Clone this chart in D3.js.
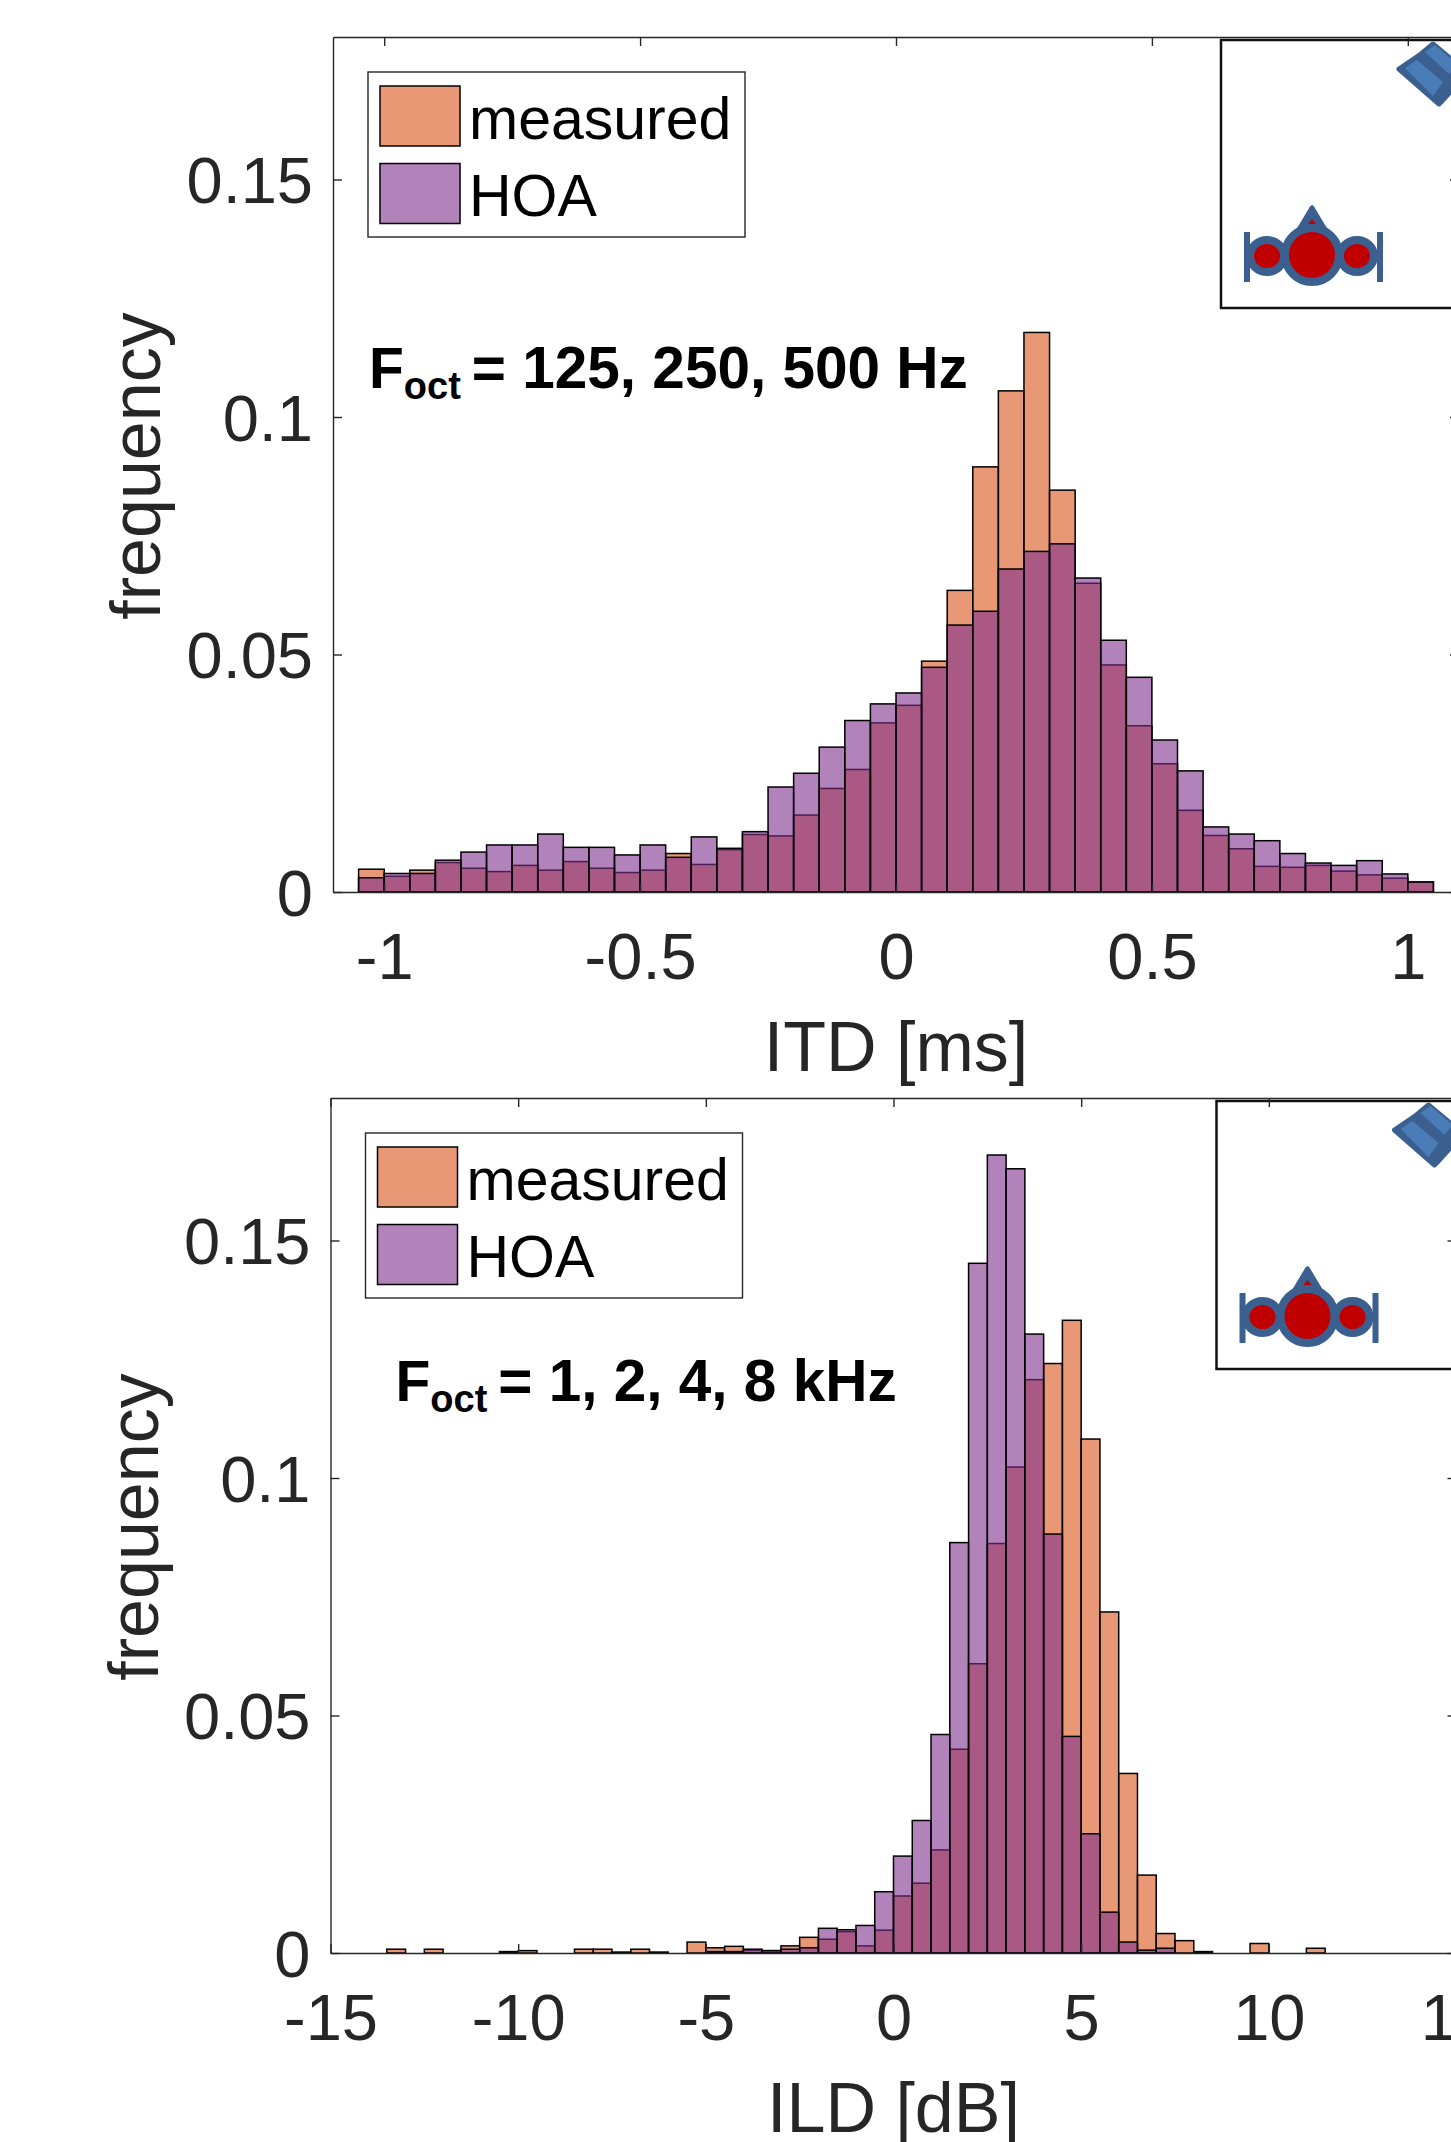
<!DOCTYPE html>
<html>
<head>
<meta charset="utf-8">
<script src="https://cdn.jsdelivr.net/npm/d3@7"></script>
<style>
    html, body { margin: 0; padding: 0; background: #fff; overflow: hidden; }
    text { font-family: "Liberation Sans", Arial, sans-serif; }
</style>
</head>
<body>
<div id="chart"></div>
<script>
// ITD histogram, bins are 0.05 ms wide starting at -1.05
const itdBinStart = -1.05;
const itdBinWidth = 0.05;
const itdMeasured = [
    .0048, .0033, .0046, .0062, .0050, .0043, .0056, .0046, .0064, .0050, .0041,
    .0046, .0081, .0058, .0089, .0121, .0118, .0162, .0218, .0258, .0356, .0393,
    .0486, .0635, .0895, .1055, .1178, .0846, .0650, .0478, .0350, .0270, .0172,
    .0119, .0091, .0054, .0052, .0056, .0044, .0036, .0029, .0021
];
const itdHoa = [
    .0030, .0039, .0039, .0067, .0084, .0099, .0099, .0122, .0094, .0094, .0078,
    .0099, .0073, .0116, .0092, .0127, .0221, .0250, .0305, .0361, .0396, .0419,
    .0473, .0562, .0591, .0680, .0717, .0733, .0661, .0530, .0452, .0320, .0255,
    .0137, .0122, .0108, .0081, .0061, .0056, .0066, .0038, .0021
];
const itdTicks = [-1, -0.5, 0, 0.5, 1];

// ILD histogram, bins are 0.5 dB wide starting at -13.5
const ildBinStart = -13.5;
const ildBinWidth = 0.5;
const ildMeasured = [
    .0008, 0, .0008, 0, 0, 0, .0003, .0005, 0, 0, .0008, .0008, .0002, .0008, .0002, 0,
    .0023, .0011, .0014, .0006, .0005, .0015, .0033, .0029, .0045, .0015, .0048, .0120,
    .0147, .0217, .0429, .0609, .0862, .1023, .1207, .1241, .1332, .1082, .0718, .0378,
    .0164, .0041, .0026, .0003, 0, 0, .0020, 0, 0, .0010
];
const ildHoa = [
    0, 0, 0, 0, 0, 0, 0, 0, 0, 0, 0, 0, 0, 0, 0, 0,
    0, .0003, .0003, .0008, .0005, .0008, .0011, .0052, .0049, .0058, .0129, .0204,
    .0279, .0460, .0864, .1452, .1680, .1651, .1303, .0882, .0456, .0251, .0086, .0023,
    .0006, .0010, 0, 0, 0, 0, 0, 0, 0, 0
];
const ildTicks = [-15, -10, -5, 0, 5, 10, 15];

const freqTicks = [0, 0.05, 0.1, 0.15];
const seriesNames = ["measured", "HOA"];
const seriesColors = ["#d95319", "#7e2f8e"];

const svg = d3.select("#chart")
    .append("svg")
    .attr("width", 1451)
    .attr("height", 2142)
    .style("display", "block");

// One histogram panel. ox/oy move the whole panel on the page
function drawPanel(cfg) {
    const g = svg.append("g").attr("transform", `translate(${cfg.ox},${cfg.oy})`);

    const x = d3.scaleLinear().domain(cfg.xDomain).range(cfg.xRange);
    const y = d3.scaleLinear().domain([0, 0.18]).range([892, 37]);

    [cfg.measured, cfg.hoa].forEach((values, s) => {
        g.append("g").selectAll("rect")
            .data(values.map((v, i) => ({ v, i })).filter(d => d.v > 0))
            .enter().append("rect")
            .attr("x", d => x(cfg.binStart + d.i * cfg.binWidth))
            .attr("y", d => y(d.v))
            .attr("width", d => x(cfg.binStart + (d.i + 1) * cfg.binWidth) - x(cfg.binStart + d.i * cfg.binWidth))
            .attr("height", d => y(0) - y(d.v))
            .attr("fill", seriesColors[s])
            .attr("fill-opacity", 0.6)
            .attr("stroke", "#000")
            .attr("stroke-width", 1.5);
    });

    drawInset(g, cfg.insetX, cfg.insetY);

    // Axes, ticks point inward like MATLAB
    const bottom = d3.axisBottom(x).tickValues(cfg.xTicks).tickSizeInner(-9).tickSizeOuter(0)
        .tickPadding(41).tickFormat(d => String(d));
    const top = d3.axisTop(x).tickValues(cfg.xTicks).tickSizeInner(-9).tickSizeOuter(0).tickFormat("");
    const left = d3.axisLeft(y).tickValues(freqTicks).tickSizeInner(-9).tickSizeOuter(0)
        .tickPadding(20).tickFormat(d => String(d));
    const right = d3.axisRight(y).tickValues(freqTicks).tickSizeInner(-9).tickSizeOuter(0).tickFormat("");

    const axes = [
        g.append("g").attr("transform", "translate(0,892)").call(bottom),
        g.append("g").attr("transform", "translate(0,37)").call(top),
        g.append("g").attr("transform", `translate(${cfg.xRange[0]},0)`).call(left),
        g.append("g").attr("transform", `translate(${cfg.xRange[1]},0)`).call(right)
    ];
    axes.forEach(a => {
        a.selectAll("path, line").attr("stroke", "#262626").attr("stroke-width", 1.4);
        a.selectAll("text").attr("fill", "#262626").style("font-size", "65px");
    });
    axes[2].selectAll("text").attr("dy", "0.36em");

    // Axis labels
    g.append("text")
        .attr("x", x(0))
        .attr("y", 1071)
        .attr("text-anchor", "middle")
        .attr("fill", "#262626")
        .style("font-size", "70px")
        .text(cfg.xLabel);
    g.append("text")
        .attr("transform", "translate(160,466) rotate(-90)")
        .attr("text-anchor", "middle")
        .attr("fill", "#262626")
        .style("font-size", "70px")
        .text("frequency");

    drawLegend(g);

    // Frequency note with subscript
    const note = g.append("text")
        .attr("x", cfg.noteX)
        .attr("y", cfg.noteY)
        .attr("fill", "#000")
        .attr("font-weight", "bold")
        .style("font-size", "57px");
    note.append("tspan").text("F");
    note.append("tspan").attr("dy", 11).style("font-size", "38px").text("oct");
    note.append("tspan").attr("dy", -11).attr("dx", 11).style("font-size", "58.5px").text(cfg.note);
}

function drawLegend(g) {
    g.append("rect")
        .attr("x", 368).attr("y", 72)
        .attr("width", 377).attr("height", 165)
        .attr("fill", "#fff")
        .attr("stroke", "#262626")
        .attr("stroke-width", 1.4);
    seriesNames.forEach((name, i) => {
        g.append("rect")
            .attr("x", 380).attr("y", 86 + i * 77.5)
            .attr("width", 80).attr("height", 60)
            .attr("fill", seriesColors[i])
            .attr("fill-opacity", 0.6)
            .attr("stroke", "#000")
            .attr("stroke-width", 1.5);
        g.append("text")
            .attr("x", 469).attr("y", 139 + i * 77)
            .attr("fill", "#000")
            .style("font-size", "59px")
            .text(name);
    });
}

// Little head and loudspeaker sketch pasted over the upper right corner
function drawInset(g, ix, iy) {
    const blue = "#3b6090";
    const red = "#c00000";
    const c = g.append("g").attr("transform", `translate(${ix},${iy})`);

    c.append("rect")
        .attr("x", 0).attr("y", 0)
        .attr("width", 400).attr("height", 268)
        .attr("fill", "#fff")
        .attr("stroke", "#111")
        .attr("stroke-width", 2.5);

    // Loudspeaker
    c.append("path")
        .attr("d", "M178,29 L200,14 L212,4 L236,24 L240,40 L220,62 L218,64 Z")
        .attr("fill", blue).attr("stroke", blue)
        .attr("stroke-width", 5).attr("stroke-linejoin", "round");
    c.append("path").attr("d", "M184,28 L196,20 L222,42 L212,56 Z").attr("fill", "#4a7cb8");
    c.append("path").attr("d", "M204,12 L214,5 L236,24 L228,34 Z").attr("fill", "#4a7cb8");

    // Head
    const hx = 91, hy = 215;
    c.append("path")
        .attr("d", `M${hx},${hy - 47} L${hx - 15},${hy - 22} L${hx + 15},${hy - 22} Z`)
        .attr("fill", blue).attr("stroke", blue)
        .attr("stroke-width", 5).attr("stroke-linejoin", "round");
    [-68, 65].forEach(dx => {
        c.append("rect")
            .attr("x", hx + dx).attr("y", hy - 23)
            .attr("width", 6).attr("height", 50)
            .attr("fill", blue);
    });
    [-45, 45].forEach(dx => {
        c.append("ellipse")
            .attr("cx", hx + dx).attr("cy", hy + 1)
            .attr("rx", 17).attr("ry", 16)
            .attr("fill", red).attr("stroke", blue).attr("stroke-width", 8);
    });
    c.append("circle")
        .attr("cx", hx).attr("cy", hy)
        .attr("r", 27)
        .attr("fill", red).attr("stroke", blue).attr("stroke-width", 8);
    c.append("path")
        .attr("d", `M${hx},${hy - 36} L${hx - 4},${hy - 31} L${hx + 4},${hy - 31} Z`)
        .attr("fill", red);
}

drawPanel({
    ox: 0, oy: 0,
    xDomain: [-1.1, 1.1], xRange: [333, 1459],
    xTicks: itdTicks,
    binStart: itdBinStart, binWidth: itdBinWidth,
    measured: itdMeasured, hoa: itdHoa,
    xLabel: "ITD [ms]",
    note: "= 125, 250, 500 Hz", noteX: 369, noteY: 388,
    insetX: 1221, insetY: 40
});

drawPanel({
    ox: -2.5, oy: 1061,
    xDomain: [-15, 15], xRange: [333, 1459],
    xTicks: ildTicks,
    binStart: ildBinStart, binWidth: ildBinWidth,
    measured: ildMeasured, hoa: ildHoa,
    xLabel: "ILD [dB]",
    note: "= 1, 2, 4, 8 kHz", noteX: 398, noteY: 340,
    insetX: 1219, insetY: 40
});
</script>
</body>
</html>
